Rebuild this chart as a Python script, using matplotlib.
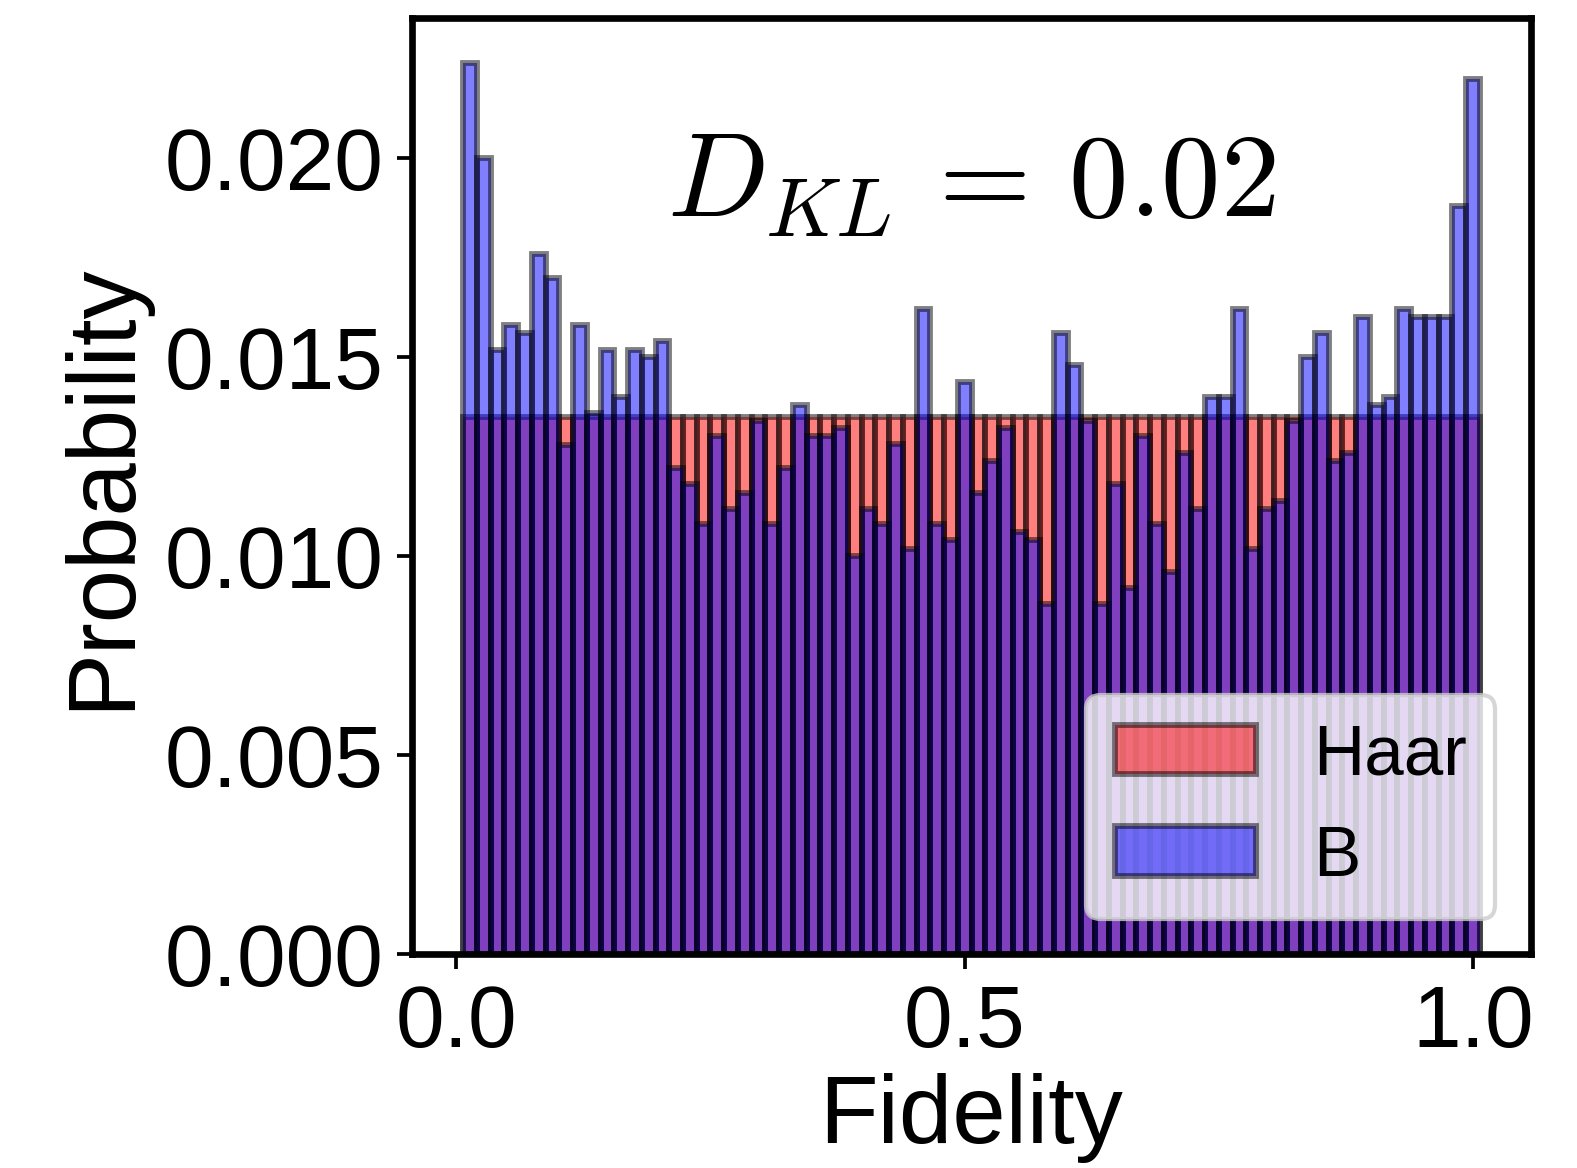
import matplotlib
matplotlib.use("Agg")
import matplotlib.pyplot as plt
import numpy as np

plt.rcParams["font.family"] = ["Liberation Sans", "DejaVu Sans"]
plt.rcParams["mathtext.fontset"] = "cm"

# probability per fidelity bin (74 bins)
haar = [0.01351] * 74
b_probs = [
    0.02240, 0.02001, 0.01519, 0.01580, 0.01560, 0.01760, 0.01700, 0.01280,
    0.01580, 0.01360, 0.01519, 0.01400, 0.01519, 0.01501, 0.01540, 0.01221,
    0.01181, 0.01080, 0.01301, 0.01120, 0.01160, 0.01341, 0.01080, 0.01221,
    0.01381, 0.01301, 0.01301, 0.01322, 0.01000, 0.01120, 0.01080, 0.01281,
    0.01019, 0.01620, 0.01080, 0.01040, 0.01439, 0.01160, 0.01240, 0.01322,
    0.01060, 0.01040, 0.00880, 0.01560, 0.01480, 0.01340, 0.00880, 0.01181,
    0.00920, 0.01301, 0.01080, 0.00960, 0.01260, 0.01120, 0.01399, 0.01399,
    0.01620, 0.01019, 0.01120, 0.01139, 0.01341, 0.01501, 0.01560, 0.01240,
    0.01260, 0.01601, 0.01381, 0.01399, 0.01620, 0.01601, 0.01601, 0.01601,
    0.01881, 0.02200,
]
kl_text = r"$D_{KL}\,=\,0.02$"

n_bins = len(b_probs)
edges = np.linspace(0, 1, n_bins + 1)
centers = (edges[:-1] + edges[1:]) / 2
w = edges[1] - edges[0]

fig = plt.figure(figsize=(15.77 / 3, 11.68 / 3), dpi=300)
ax = fig.add_axes([0.2615, 0.1829, 0.7091, 0.8016])

ax.bar(centers, haar, width=w, align="edge", color="red", alpha=0.5,
       edgecolor="black", linewidth=1.4, label="Haar")
ax.bar(centers, b_probs, width=w, align="edge", color="blue", alpha=0.5,
       edgecolor="black", linewidth=1.4, label="B")

ax.set_xticks([0.0, 0.5, 1.0])
ax.set_xticklabels(["0.0", "0.5", "1.0"])
ax.set_yticks([0.0, 0.005, 0.010, 0.015, 0.020])
ax.set_yticklabels(["0.000", "0.005", "0.010", "0.015", "0.020"])
ax.tick_params(labelsize=21, width=0.9, length=3.5)
for s in ax.spines.values():
    s.set_linewidth(1.6)

ax.set_xlabel("Fidelity", fontsize=23, labelpad=2)
ax.set_ylabel("Probability", fontsize=23, labelpad=4)

ax.text(0.5, 0.82, kl_text, transform=ax.transAxes, ha="center", va="center",
        fontsize=28.5)
ax.legend(loc="lower right", fontsize=17)

fig.savefig("out.png", dpi=300)
